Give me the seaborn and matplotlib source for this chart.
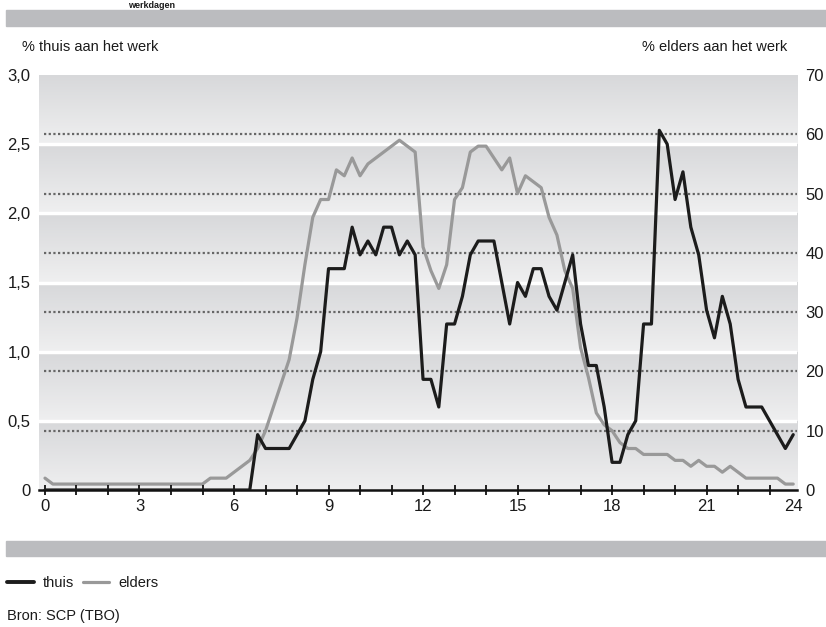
import numpy as np
import pandas as pd
import matplotlib
matplotlib.use("Agg")
import matplotlib.pyplot as plt
import seaborn as sns
from matplotlib.colors import LinearSegmentedColormap
from matplotlib.lines import Line2D
from matplotlib.patches import Rectangle

# tijd in kwartieren (0:00 .. 23:45)
uren = np.arange(0, 24, 0.25)

# % thuis aan het werk (linker as)
thuis = [
    0, 0, 0, 0, 0, 0, 0, 0, 0, 0, 0, 0, 0, 0, 0, 0,
    0, 0, 0, 0, 0, 0, 0, 0, 0, 0, 0, 0.4,
    0.3, 0.3, 0.3, 0.3, 0.4, 0.5, 0.8, 1.0,
    1.6, 1.6, 1.6, 1.9, 1.7, 1.8, 1.7, 1.9,
    1.9, 1.7, 1.8, 1.7, 0.8, 0.8, 0.6, 1.2,
    1.2, 1.4, 1.7, 1.8, 1.8, 1.8, 1.5, 1.2,
    1.5, 1.4, 1.6, 1.6, 1.4, 1.3, 1.5, 1.7,
    1.2, 0.9, 0.9, 0.6, 0.2, 0.2, 0.4, 0.5,
    1.2, 1.2, 2.6, 2.5, 2.1, 2.3, 1.9, 1.7,
    1.3, 1.1, 1.4, 1.2, 0.8, 0.6, 0.6, 0.6,
    0.5, 0.4, 0.3, 0.4,
]

# % elders aan het werk (rechter as)
elders = [
    2, 1, 1, 1, 1, 1, 1, 1, 1, 1, 1, 1, 1, 1, 1, 1,
    1, 1, 1, 1, 1, 2, 2, 2,
    3, 4, 5, 7, 10, 14, 18, 22,
    29, 38, 46, 49, 49, 54, 53, 56,
    53, 55, 56, 57, 58, 59, 58, 57,
    41, 37, 34, 38, 49, 51, 57, 58,
    58, 56, 54, 56, 50, 53, 52, 51,
    46, 43, 37, 34, 24, 19, 13, 11,
    10, 8, 7, 7, 6, 6, 6, 6,
    5, 5, 4, 5, 4, 4, 3, 4,
    3, 2, 2, 2, 2, 2, 1, 1,
]

links_ticks = [0, 0.5, 1.0, 1.5, 2.0, 2.5, 3.0]
links_labels = ["0", "0,5", "1,0", "1,5", "2,0", "2,5", "3,0"]
rechts_ticks = [0, 10, 20, 30, 40, 50, 60, 70]
x_ticks = [0, 3, 6, 9, 12, 15, 18, 21]
x_labels = ["0", "3", "6", "9", "12", "15", "18", "21"]

df = pd.DataFrame({"uur": uren, "thuis": thuis, "elders": elders})

sns.set_theme(style="white")
plt.rcParams["font.family"] = ["Liberation Sans", "DejaVu Sans"]
plt.rcParams["text.color"] = "#1a1a1a"

W, H = 826, 627
fig = plt.figure(figsize=(W / 100, H / 100), dpi=100)
ax = fig.add_axes([39 / W, 137 / H, 758 / W, 415 / H])
ax2 = ax.twinx()
ax.set_zorder(ax2.get_zorder() + 1)
ax.patch.set_visible(False)

# achtergrondbanden met verloop
band_cmap = LinearSegmentedColormap.from_list("band", ["#d7d8da", "#efeff0"])
grad = np.linspace(0, 1, 64).reshape(-1, 1)
for i in range(6):
    ax2.imshow(grad, cmap=band_cmap, extent=(0, 1, i / 6, (i + 1) / 6),
               transform=ax2.transAxes, aspect="auto", zorder=0, interpolation="bilinear")
for i in range(1, 6):
    ax2.plot([0, 1], [i / 6, i / 6], transform=ax2.transAxes, color="white", lw=2.5, zorder=0.5)
for v in rechts_ticks[1:-1]:
    ax2.axhline(v, color="#666666", lw=1.6, ls=(0, (1, 1.1)), zorder=1, xmin=0.007)

sns.lineplot(data=df, x="uur", y="elders", ax=ax2, color="#999999", lw=2.3, zorder=3)
sns.lineplot(data=df, x="uur", y="thuis", ax=ax, color="#1c1c1c", lw=2.3, zorder=3)

ax.set_xlim(-0.19, 23.87)
ax.set_ylim(0, 3)
ax2.set_ylim(0, 70)
ax.set_xlabel("")
ax.set_ylabel("")
ax2.set_ylabel("")

for a in (ax, ax2):
    for s in a.spines.values():
        s.set_visible(False)
ax.spines["bottom"].set_visible(True)
ax.spines["bottom"].set_color("#111111")
ax.spines["bottom"].set_linewidth(1.8)

ax.set_yticks(links_ticks, links_labels)
ax2.set_yticks(rechts_ticks)
ax.tick_params(axis="y", length=0, pad=6, labelsize=12, labelcolor="#1a1a1a")
ax2.tick_params(axis="y", length=0, pad=6, labelsize=12, labelcolor="#1a1a1a")

ax.set_xticks(x_ticks, x_labels)
ax.set_xticks(range(24), minor=True)
ax.tick_params(axis="x", which="both", direction="inout", length=7.5, width=1.3,
               color="#111111", bottom=True)
ax.tick_params(axis="x", which="major", labelsize=12, pad=3, labelcolor="#1a1a1a")
# het label 24 valt net buiten de as, dus los geplaatst op dezelfde hoogte
ax.annotate("24", xy=(23.75, 0), xycoords=ax.get_xaxis_transform(),
            xytext=(0, -6.75), textcoords="offset points",
            ha="center", va="top", fontsize=12, color="#1a1a1a")

# kopjes boven de assen
fig.text(22 / W, 1 - 47 / H, "% thuis aan het werk", fontsize=10.5, va="center", ha="left")
fig.text(787 / W, 1 - 47 / H, "% elders aan het werk", fontsize=10.5, va="center", ha="right")
fig.text(128 / W, 1 - 1 / H, "werkdagen", fontsize=6.5, fontweight="bold", va="top", ha="left")

# grijze balken
fig.patches.append(Rectangle((6 / W, 1 - 26 / H), 1, 16 / H, transform=fig.transFigure,
                             color="#bbbcbf", zorder=0))
fig.patches.append(Rectangle((6 / W, 1 - 556 / H), 1, 15 / H, transform=fig.transFigure,
                             color="#bbbcbf", zorder=0))

handles = [Line2D([], [], color="#1c1c1c", lw=2.8), Line2D([], [], color="#999999", lw=2.3)]
fig.legend(handles, ["thuis", "elders"], loc="center left", bbox_to_anchor=(0, 1 - 583 / H),
           ncol=2, frameon=False, fontsize=10.5, handlelength=1.8, handletextpad=0.65,
           columnspacing=0.6, borderaxespad=0.3, borderpad=0.2)
fig.text(7 / W, 1 - 616 / H, "Bron: SCP (TBO)", fontsize=10.5, va="center", ha="left")

fig.savefig("out.png", dpi=100)
